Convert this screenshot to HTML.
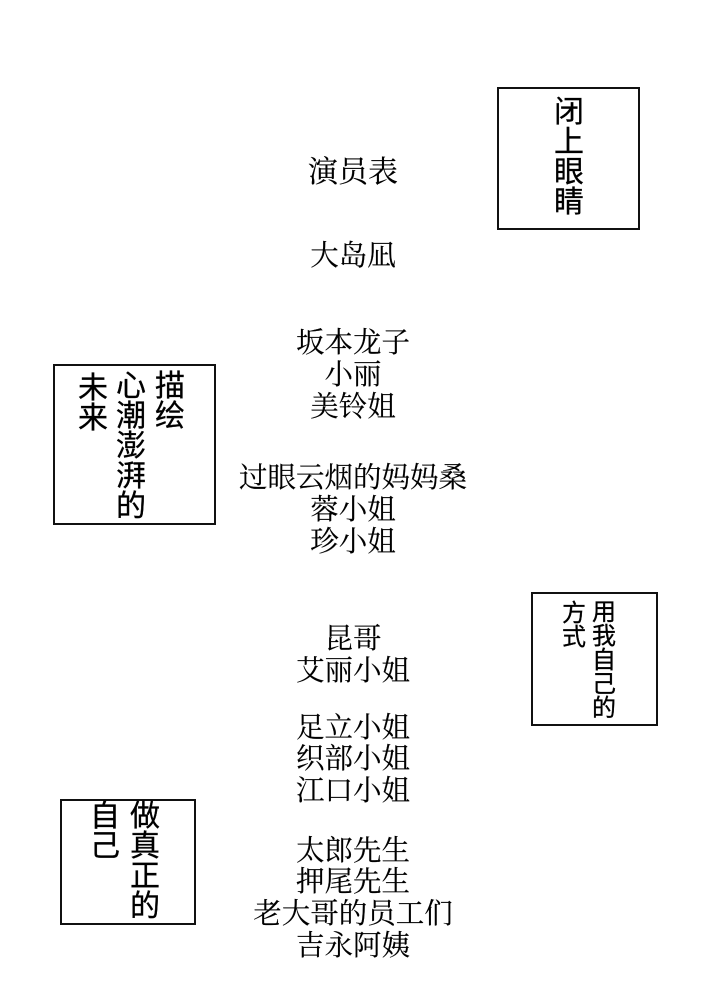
<!DOCTYPE html>
<html><head><meta charset="utf-8">
<style>
html,body{margin:0;padding:0;background:#fff;}
#p{position:relative;width:705px;height:1000px;overflow:hidden;background:#fff;}
.t{position:absolute;white-space:nowrap;text-align:center;font-family:"Liberation Serif","Noto Serif CJK SC",serif;font-size:28.5px;line-height:32px;color:#000;left:153px;width:400px;-webkit-text-stroke:.15px #000;}
.b{position:absolute;box-sizing:border-box;border:2px solid #111;background:#fff;}
.v{position:absolute;font-family:"Liberation Sans","WenQuanYi Zen Hei","Noto Sans CJK SC",sans-serif;color:#000;width:1em;line-height:1;text-align:center;white-space:normal;word-break:break-all;-webkit-text-stroke:.3px #000;}
</style></head><body><div id="p">
<div class="t" style="top:157px;font-size:30px">演员表</div>
<div class="t" style="top:241px">大岛凪</div>
<div class="t" style="top:328px">坂本龙子</div>
<div class="t" style="top:360px">小丽</div>
<div class="t" style="top:392px">美铃姐</div>
<div class="t" style="top:463px">过眼云烟的妈妈桑</div>
<div class="t" style="top:495px">蓉小姐</div>
<div class="t" style="top:527px">珍小姐</div>
<div class="t" style="top:624px">昆哥</div>
<div class="t" style="top:656px">艾丽小姐</div>
<div class="t" style="top:713px">足立小姐</div>
<div class="t" style="top:744px">织部小姐</div>
<div class="t" style="top:776px">江口小姐</div>
<div class="t" style="top:836px">太郎先生</div>
<div class="t" style="top:867px">押尾先生</div>
<div class="t" style="top:899px">老大哥的员工们</div>
<div class="t" style="top:931px">吉永阿姨</div>

<div class="b" style="left:497px;top:87px;width:143px;height:143px"></div>
<div class="v" style="left:554px;top:98px;font-size:30px">闭上眼睛</div>

<div class="b" style="left:53px;top:364px;width:163px;height:161px"></div>
<div class="v" style="left:155px;top:372px;font-size:30px">描绘</div>
<div class="v" style="left:116px;top:372px;font-size:30px">心潮澎湃的</div>
<div class="v" style="left:78px;top:374px;font-size:30px">未来</div>

<div class="b" style="left:531px;top:592px;width:127px;height:134px"></div>
<div class="v" style="left:592px;top:601px;font-size:24px">用我自己的</div>
<div class="v" style="left:562px;top:602px;font-size:24px">方式</div>

<div class="b" style="left:60px;top:799px;width:136px;height:126px"></div>
<div class="v" style="left:130px;top:802px;font-size:30px">做真正的</div>
<div class="v" style="left:90px;top:802px;font-size:30px">自己</div>
</div></body></html>
